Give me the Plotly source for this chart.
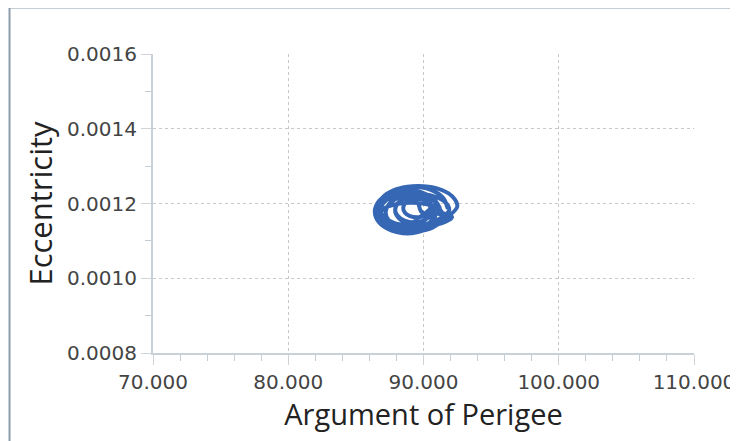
import plotly.graph_objects as go

# Argument of perigee (deg) and eccentricity, traced as successive loops
arg_perigee = [
    91.8, 91.45, 90.5, 89.2, 87.9, 86.95, 86.6, 86.95, 87.9, 89.2, 90.5, 91.45,
    92.5, 92.11, 91.05, 89.6, 88.15, 87.09, 86.7, 87.09, 88.15, 89.6, 91.05, 92.11,
    91.1, 90.81, 90.0, 88.9, 87.8, 86.99, 86.7, 86.99, 87.8, 88.9, 90.0, 90.81,
    90.8, 90.56, 89.9, 89.0, 88.1, 87.44, 87.2, 87.44, 88.1, 89.0, 89.9, 90.56,
    90.7, 90.51, 90.0, 89.3, 88.6, 88.09, 87.9, 88.09, 88.6, 89.3, 90.0, 90.51,
    91.2, 90.88, 90.0, 88.8, 87.6, 86.72, 86.4, 86.72, 87.6, 88.8, 90.0, 90.88,
    89.8, 89.6, 89.05, 88.3, 87.55, 87.0, 86.8, 87.0, 87.55, 88.3, 89.05, 89.6,
    90.5, 90.37, 90.0, 89.5, 89.0, 88.63, 88.5, 88.63, 89.0, 89.5, 90.0, 90.37,
    91.4, 91.09, 90.25, 89.1, 87.95, 87.11, 86.8, 87.11, 87.95, 89.1, 90.25, 91.09,
    91.9, 91.63, 90.9, 89.9, 88.9, 88.17, 87.9, 88.17, 88.9, 89.9, 90.9, 91.63,
]
eccentricity = [
    0.001185, 0.001215, 0.001237, 0.001245, 0.001237, 0.001215, 0.001185, 0.001155, 0.001133, 0.001125, 0.001133, 0.001155,
    0.001192, 0.001220, 0.001240, 0.001247, 0.001240, 0.001220, 0.001192, 0.001164, 0.001144, 0.001137, 0.001144, 0.001164,
    0.001180, 0.001205, 0.001223, 0.001230, 0.001223, 0.001205, 0.001180, 0.001155, 0.001137, 0.001130, 0.001137, 0.001155,
    0.001176, 0.001198, 0.001215, 0.001221, 0.001215, 0.001198, 0.001176, 0.001154, 0.001137, 0.001131, 0.001137, 0.001154,
    0.001184, 0.001201, 0.001214, 0.001219, 0.001214, 0.001201, 0.001184, 0.001167, 0.001154, 0.001149, 0.001154, 0.001167,
    0.001178, 0.001207, 0.001228, 0.001236, 0.001228, 0.001207, 0.001178, 0.001149, 0.001128, 0.001120, 0.001128, 0.001149,
    0.001180, 0.001200, 0.001215, 0.001220, 0.001215, 0.001200, 0.001180, 0.001160, 0.001145, 0.001140, 0.001145, 0.001160,
    0.001188, 0.001200, 0.001210, 0.001213, 0.001210, 0.001200, 0.001188, 0.001175, 0.001166, 0.001163, 0.001166, 0.001175,
    0.001172, 0.001187, 0.001198, 0.001202, 0.001198, 0.001187, 0.001172, 0.001157, 0.001146, 0.001142, 0.001146, 0.001157,
    0.001182, 0.001203, 0.001218, 0.001224, 0.001218, 0.001203, 0.001182, 0.001161, 0.001146, 0.001140, 0.001146, 0.001161,
]

x_ticks = [70, 80, 90, 100, 110]
y_ticks = [0.0008, 0.0010, 0.0012, 0.0014, 0.0016]

fig = go.Figure()
fig.add_trace(go.Scatter(
    x=arg_perigee, y=eccentricity, mode="lines",
    line=dict(color="#3567b5", width=4, shape="spline", smoothing=1.0),
    showlegend=False, hoverinfo="skip",
))

tick_font = dict(family="DejaVu Sans", size=20, color="#444444")

fig.update_xaxes(
    range=[70, 110], tickvals=x_ticks, tickformat=".3f", automargin=False,
    showgrid=True, gridcolor="#c8c8c8", griddash="dot", gridwidth=1,
    showline=True, linecolor="#c8d0d8", linewidth=2,
    ticks="outside", ticklen=10, tickcolor="#d0d4d8", tickwidth=1,
    minor=dict(dtick=2, ticks="outside", ticklen=6, tickcolor="#c4ccd4", showgrid=False),
    tickfont=tick_font, zeroline=False,
    title=dict(text="Argument of Perigee",
               font=dict(family="Open Sans", size=29, color="#222222"), standoff=6),
)
fig.update_yaxes(
    range=[0.0008, 0.0016], tickvals=y_ticks, tickformat=".4f", automargin=False,
    showgrid=True, gridcolor="#c8c8c8", griddash="dot", gridwidth=1,
    showline=True, linecolor="#c8d0d8", linewidth=2,
    ticks="outside", ticklen=10, tickcolor="#d0d4d8", tickwidth=1,
    minor=dict(dtick=0.0001, ticks="outside", ticklen=6, tickcolor="#c4ccd4", showgrid=False),
    tickfont=tick_font, zeroline=False,
    title=dict(text="Eccentricity",
               font=dict(family="Open Sans", size=31, color="#222222"), standoff=5),
)

fig.update_layout(
    width=730, height=433,
    margin=dict(l=145, r=44, t=46, b=88),
    paper_bgcolor="white", plot_bgcolor="white",
    shapes=[
        dict(type="line", xref="paper", yref="paper", x0=-0.2652, x1=-0.2652, y0=-0.35, y1=1.1555,
             line=dict(color="#8c9cab", width=2), layer="above"),
        dict(type="line", xref="paper", yref="paper", x0=-0.2652, x1=1.2, y0=1.1555, y1=1.1555,
             line=dict(color="#8c9cab", width=2), layer="above"),
    ],
)

fig.write_html("out.html")
